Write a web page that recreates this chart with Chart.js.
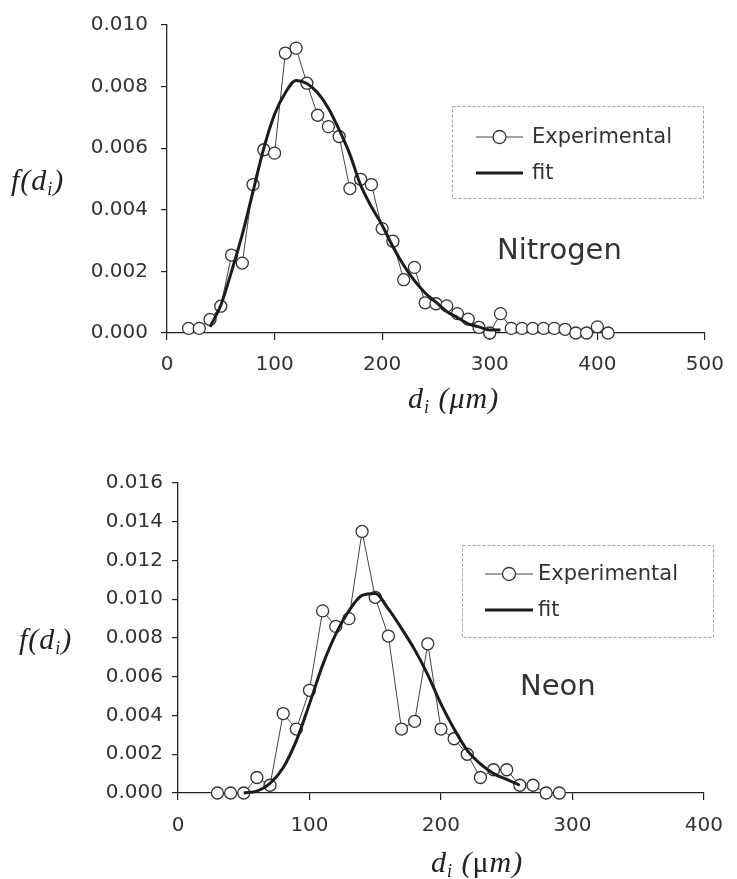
<!DOCTYPE html>
<html>
<head>
<meta charset="utf-8">
<script src="https://cdn.jsdelivr.net/npm/chart.js@4.4.1/dist/chart.umd.min.js"></script>
<style>
  body { margin: 0; background: #fff; width: 737px; height: 879px; position: relative; overflow: hidden; }
  .wrap { position: absolute; left: 0; width: 737px; }
  .ttl { position: absolute; font-family: "Liberation Serif", serif; font-style: italic; font-size: 30px; letter-spacing: 1px; color: #222; white-space: nowrap; line-height: 34px; }
  .ttl sub { font-size: 18px; vertical-align: -5px; }
  .up { font-style: normal; }
</style>
</head>
<body>
<div class="wrap" style="top:0;height:420px"><canvas id="nitrogen" width="737" height="420"></canvas></div>
<div class="wrap" style="top:440px;height:439px"><canvas id="neon" width="737" height="439"></canvas></div>

<div class="ttl" style="left:11px;top:163px">f(d<sub>i</sub>)</div>
<div class="ttl" style="left:408px;top:381px">d<sub>i</sub> (μm)</div>
<div class="ttl" style="left:19px;top:622px">f(d<sub>i</sub>)</div>
<div class="ttl" style="left:431px;top:845px">d<sub>i</sub> (<span class="up">μ</span>m)</div>

<script>
// Nitrogen - measured distribution
const nitroD = [20, 30, 40, 50, 60, 70, 80, 90, 100, 110, 120, 130, 140, 150, 160, 170, 180, 190, 200, 210,
                220, 230, 240, 250, 260, 270, 280, 290, 300, 310, 320, 330, 340, 350, 360, 370, 380, 390, 400, 410];
const nitroF = [0.00015, 0.00015, 0.00044, 0.00087, 0.00253, 0.00227, 0.00482, 0.00595, 0.00584, 0.00909,
                0.00925, 0.00811, 0.00707, 0.00670, 0.00638, 0.00469, 0.00499, 0.00482, 0.00339, 0.00298,
                0.00173, 0.00213, 0.00098, 0.00095, 0.00088, 0.00063, 0.00045, 0.00018, 0.00000, 0.00063,
                0.00015, 0.00015, 0.00015, 0.00015, 0.00015, 0.00012, 0.00000, 0.00000, 0.00020, 0.00000];
// Nitrogen - fit curve
const nitroFitD = [40, 50, 60, 70, 80, 90, 100, 110, 120, 130, 140, 150, 160, 170, 180, 190, 200, 210,
                   220, 230, 240, 250, 260, 270, 280, 290, 300, 310];
const nitroFitF = [0.0002, 0.0009, 0.0020, 0.0032, 0.0046, 0.0060, 0.0071, 0.0078, 0.0082, 0.0081, 0.0078,
                   0.0073, 0.0066, 0.0058, 0.0048, 0.0041, 0.0035, 0.0028, 0.0022, 0.0017, 0.0013, 0.0010,
                   0.0007, 0.0005, 0.0003, 0.0002, 0.0001, 0.0001];

// Neon - measured distribution
const neonD = [30, 40, 50, 60, 70, 80, 90, 100, 110, 120, 130, 140, 150, 160, 170, 180, 190, 200, 210, 220,
               230, 240, 250, 260, 270, 280, 290];
const neonF = [0, 0, 0, 0.0008, 0.0004, 0.0041, 0.0033, 0.0053, 0.0094, 0.0086, 0.0090, 0.0135, 0.0101,
               0.0081, 0.0033, 0.0037, 0.0077, 0.0033, 0.0028, 0.0020, 0.0008, 0.0012, 0.0012, 0.0004,
               0.0004, 0, 0];
// Neon - fit curve
const neonFitD = [50, 60, 70, 80, 90, 100, 110, 120, 130, 140, 150, 160, 170, 180, 190, 200, 210, 220, 230, 240, 250, 260];
const neonFitF = [0.0000, 0.0001, 0.0005, 0.0013, 0.0027, 0.0046, 0.0066, 0.0082, 0.0094, 0.0102, 0.0103,
                  0.0095, 0.0085, 0.0074, 0.0061, 0.0046, 0.0033, 0.0022, 0.0015, 0.0010, 0.0007, 0.0004];

const seriesLabels = ['Experimental', 'fit'];

function pairs(xs, ys) {
  return xs.map(function (x, i) { return { x: x, y: ys[i] }; });
}

// legend box + gas name drawn inside the plot
const boxLegend = {
  id: 'boxLegend',
  afterDraw(chart, args, o) {
    const ctx = chart.ctx;
    ctx.save();
    ctx.strokeStyle = '#a0a0a0';
    ctx.lineWidth = 1;
    ctx.setLineDash([3, 2]);
    ctx.strokeRect(o.box[0] + 0.5, o.box[1] + 0.5, o.box[2], o.box[3]);
    ctx.setLineDash([]);
    ctx.font = '21px "DejaVu Sans"';
    ctx.fillStyle = '#333';
    ctx.textBaseline = 'middle';
    chart.data.datasets.forEach(function (ds, i) {
      const y = o.rows[i];
      ctx.strokeStyle = ds.borderColor;
      ctx.lineWidth = ds.borderWidth;
      ctx.beginPath();
      ctx.moveTo(o.lineX[0], y);
      ctx.lineTo(o.lineX[1], y);
      ctx.stroke();
      if (ds.pointRadius > 0) {
        ctx.beginPath();
        ctx.arc((o.lineX[0] + o.lineX[1]) / 2, y, 6.5, 0, Math.PI * 2);
        ctx.fillStyle = '#fff';
        ctx.fill();
        ctx.lineWidth = ds.pointBorderWidth;
        ctx.strokeStyle = ds.pointBorderColor;
        ctx.stroke();
        ctx.fillStyle = '#333';
      }
      ctx.fillText(ds.label, o.textX, y + 1);
    });
    ctx.font = '29px "DejaVu Sans"';
    ctx.fillText(o.name, o.nameX, o.nameY);
    ctx.restore();
  }
};

function makeChart(id, expD, expF, fitD, fitF, cfg) {
  const data = {
    datasets: [{
      label: seriesLabels[0],
      data: pairs(expD, expF),
      borderColor: '#444',
      borderWidth: 1,
      pointRadius: 6,
      pointBackgroundColor: '#fff',
      pointBorderColor: '#333',
      pointBorderWidth: 1.3,
      clip: false,
      order: 1
    }, {
      label: seriesLabels[1],
      data: pairs(fitD, fitF),
      borderColor: '#1c1c1c',
      borderWidth: 3,
      pointRadius: 0,
      cubicInterpolationMode: 'monotone',
      clip: false,
      order: 0
    }]
  };

  const tickFont = { family: 'DejaVu Sans', size: 20 };

  return new Chart(document.getElementById(id), {
    type: 'line',
    data,
    plugins: [boxLegend],
    options: {
      responsive: false,
      animation: false,
      devicePixelRatio: 1,
      layout: { padding: { left: 0, right: cfg.padRight, top: cfg.padTop, bottom: 0 } },
      plugins: {
        legend: { display: false },
        tooltip: { enabled: false },
        boxLegend: cfg.legend
      },
      scales: {
        x: {
          type: 'linear',
          min: 0,
          max: cfg.xMax,
          ticks: { stepSize: 100, font: tickFont, color: '#333', padding: cfg.xPad, maxRotation: 0 },
          grid: { drawOnChartArea: false, tickLength: 7, color: '#222', lineWidth: 1.2 },
          border: { color: '#222', width: 1.3 },
          afterFit: function (s) { s.height = cfg.xHeight; }
        },
        y: {
          min: 0,
          max: cfg.yMax,
          ticks: {
            stepSize: 0.002, font: tickFont, color: '#333', padding: cfg.yPad,
            callback: function (v) { return v.toFixed(3); }
          },
          grid: { drawOnChartArea: false, tickLength: 6, color: '#222', lineWidth: 1.2 },
          border: { color: '#222', width: 1.3 },
          afterFit: function (s) { s.width = cfg.yWidth; }
        }
      }
    }
  });
}

makeChart('nitrogen', nitroD, nitroF, nitroFitD, nitroFitF, {
  xMax: 500, yMax: 0.010, padRight: 24, padTop: 21, xHeight: 87, yWidth: 167, xPad: 13, yPad: 13,
  legend: { box: [452, 106, 251, 92], rows: [137, 173], lineX: [476, 523], textX: 532,
            name: 'Nitrogen', nameX: 497, nameY: 251 }
});

makeChart('neon', neonD, neonF, neonFitD, neonFitF, {
  xMax: 400, yMax: 0.016, padRight: 25, padTop: 43, xHeight: 86, yWidth: 178, xPad: 14, yPad: 9,
  legend: { box: [462, 105, 251, 92], rows: [134, 170], lineX: [485, 533], textX: 538,
            name: 'Neon', nameX: 520, nameY: 247 }
});
</script>
</body>
</html>
